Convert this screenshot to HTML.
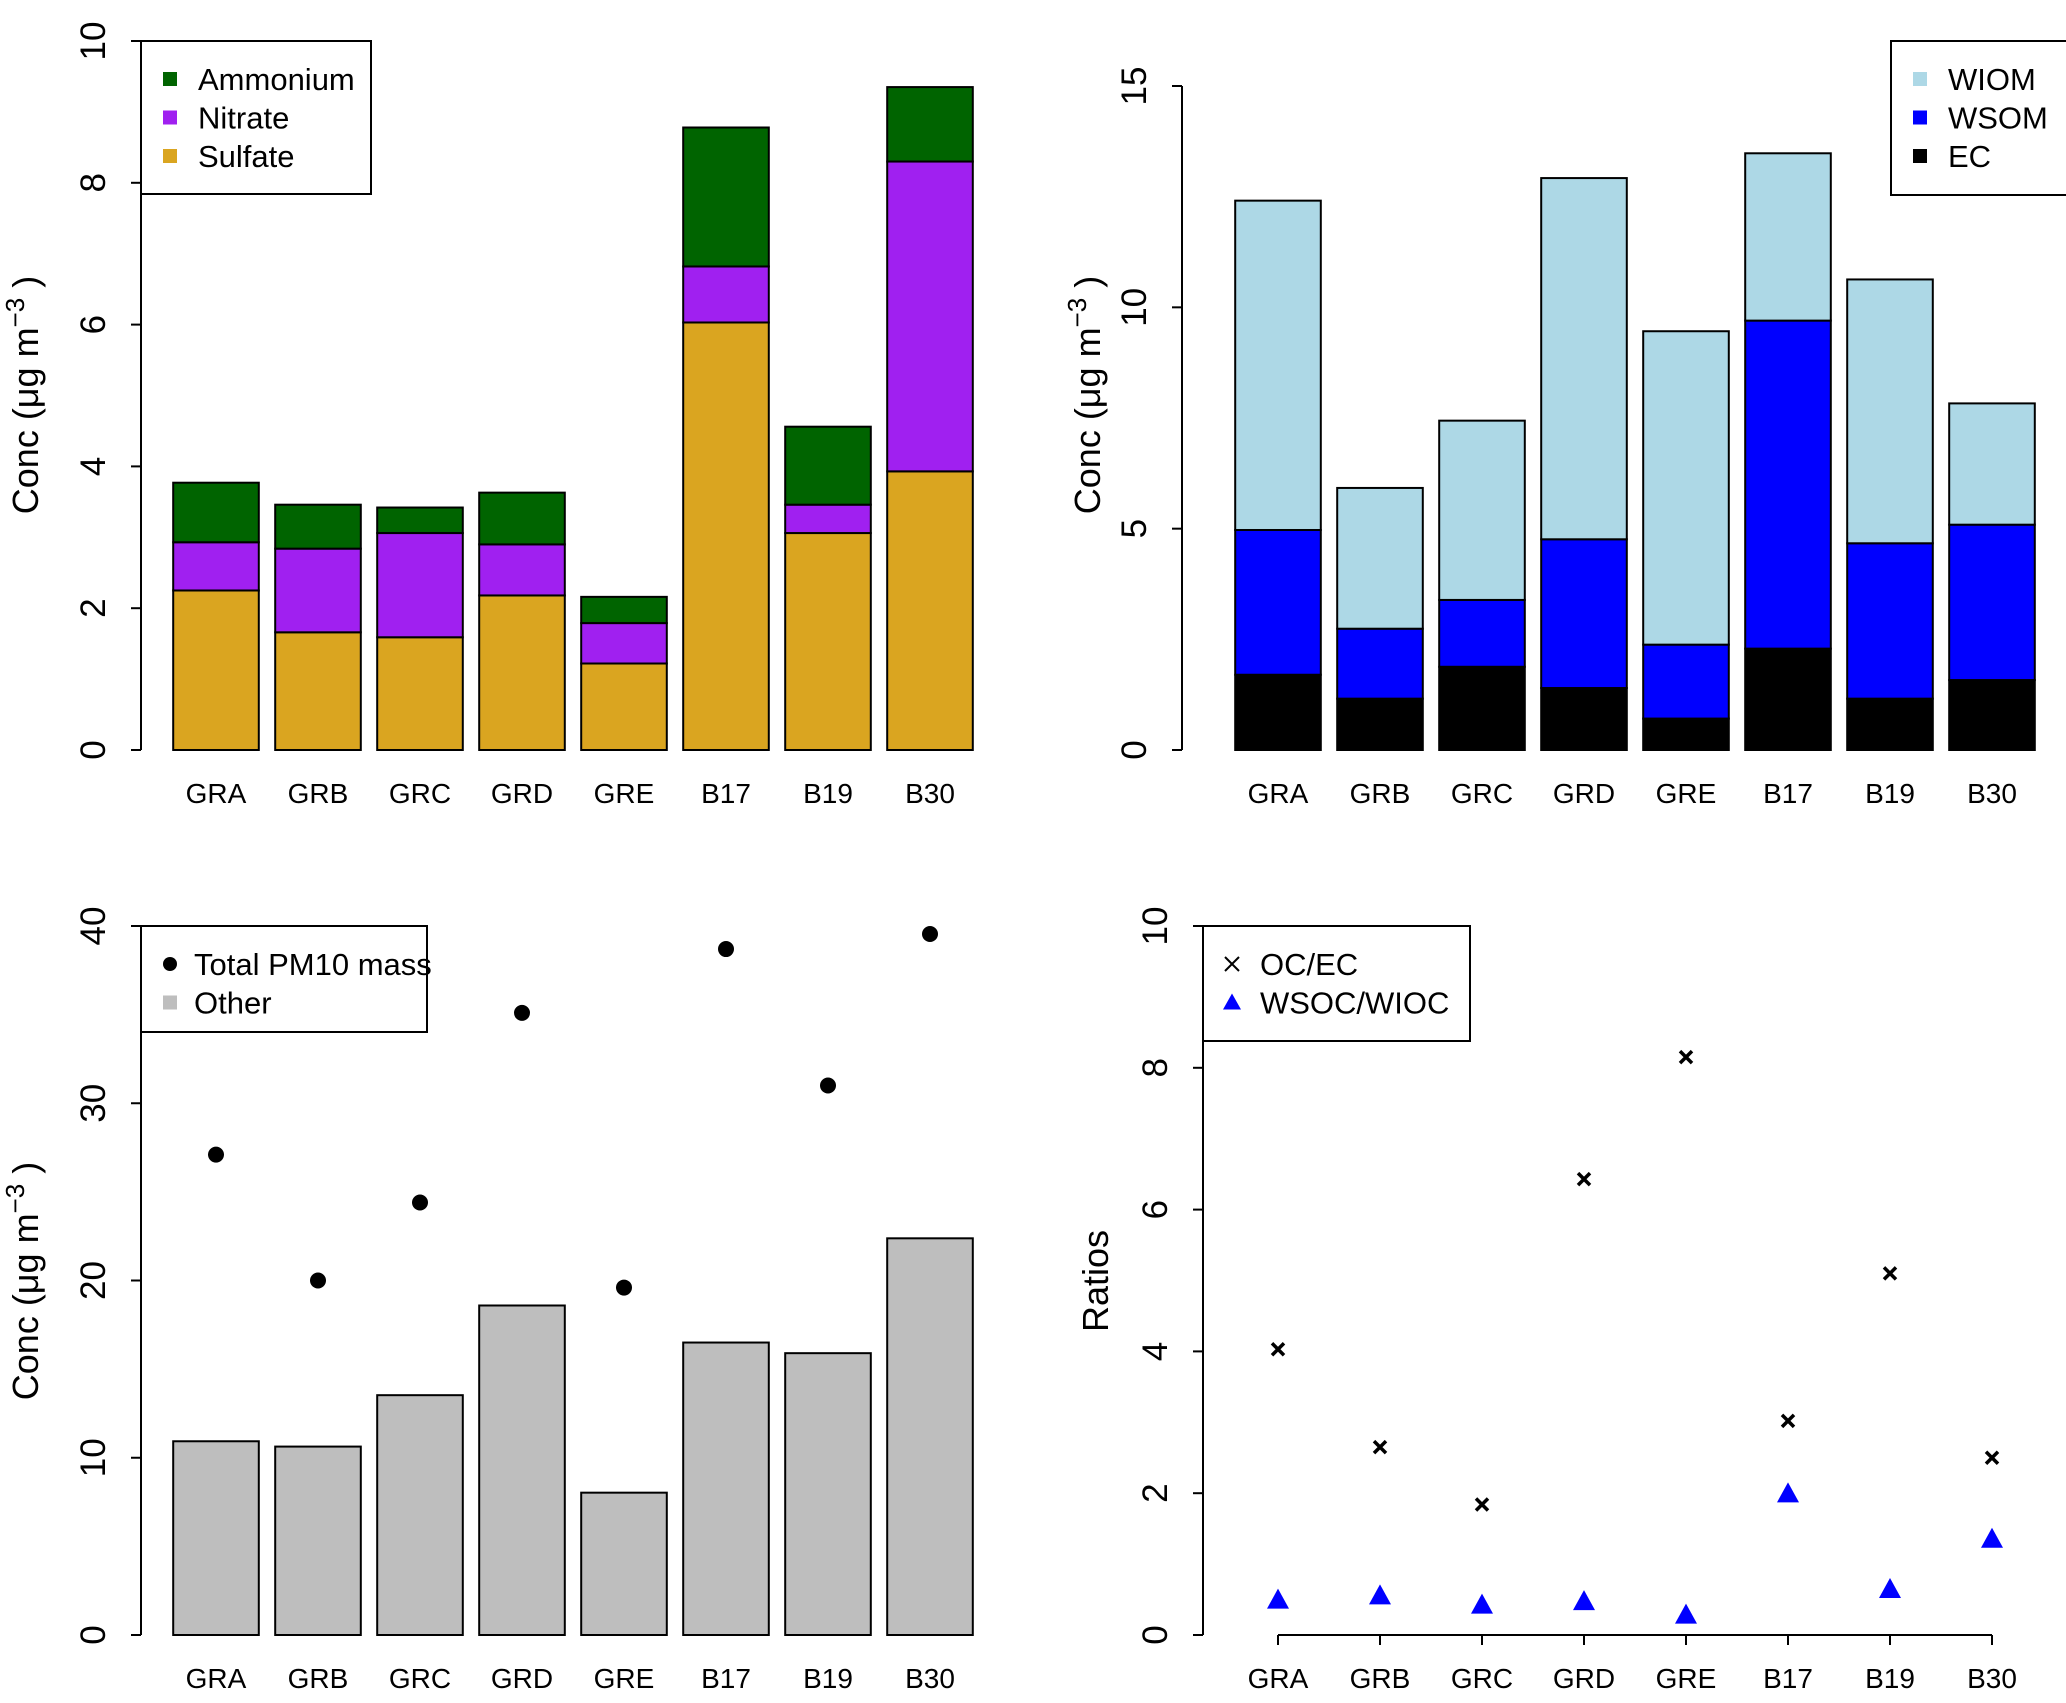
<!DOCTYPE html>
<html><head><meta charset="utf-8">
<style>
html,body{margin:0;padding:0;background:#fff;}
svg{display:block;font-family:"Liberation Sans",Arial,sans-serif;}
</style></head>
<body>
<svg id="chart" width="2066" height="1703" viewBox="0 0 2066 1703" xmlns="http://www.w3.org/2000/svg"></svg>
<script>
const categories = ["GRA","GRB","GRC","GRD","GRE","B17","B19","B30"];
// Panel 1: inorganic ions
const sulfate  = [2.25,1.66,1.59,2.18,1.22,6.03,3.06,3.93];
const nitrate  = [0.68,1.18,1.47,0.72,0.57,0.79,0.40,4.37];
const ammonium = [0.84,0.62,0.36,0.73,0.37,1.96,1.10,1.05];
const ticks1 = ["0","2","4","6","8","10"];
// Panel 2: carbonaceous
const ec   = [1.70,1.16,1.88,1.40,0.71,2.29,1.16,1.58];
const wsom = [3.27,1.58,1.51,3.36,1.67,7.41,3.51,3.51];
const wiom = [7.44,3.18,4.05,8.16,7.08,3.78,5.96,2.74];
const ticks2 = ["0","5","10","15"];
// Panel 3: mass
const other = [10.93,10.63,13.53,18.59,8.03,16.5,15.9,22.38];
const totalPM10 = [27.1,20.0,24.4,35.1,19.6,38.7,31.0,39.55];
const ticks3 = ["0","10","20","30","40"];
// Panel 4: ratios
const ocec = [4.03,2.65,1.84,6.43,8.15,3.02,5.10,2.50];
const wsocwioc = [0.47,0.53,0.40,0.45,0.26,1.97,0.62,1.33];
const ticks4 = ["0","2","4","6","8","10"];

const svg = document.getElementById('chart');
const NS = 'http://www.w3.org/2000/svg';
function mk(tag, attrs, parent){
  const e = document.createElementNS(NS, tag);
  for (const k in attrs) e.setAttribute(k, attrs[k]);
  (parent||svg).appendChild(e);
  return e;
}
const BW = 85.6, STEP = 102;

function panel(p){
  const g = mk('g', {});
  
  
  const yS = v => p.y0 - (v / p.vmax) * (p.y0 - p.yTop);
  const xS = i => p.x0 + i * STEP;
  const ax = mk('g', {}, g);
  
  
  const tv0 = parseFloat(p.ticks[0]), tv1 = parseFloat(p.ticks[p.ticks.length-1]);
  mk('line', {x1:p.axisX, x2:p.axisX, y1:yS(tv0), y2:yS(tv1), stroke:'#000','stroke-width':2}, ax);
  p.ticks.forEach(t => {
    const v = parseFloat(t), y = yS(v);
    mk('line', {x1:p.axisX-10, x2:p.axisX, y1:y, y2:y, stroke:'#000','stroke-width':2}, ax);
    const tx = mk('text', {x:0, y:0, 'font-size':35, 'text-anchor':'middle',
      transform:`translate(${p.axisX-36},${y}) rotate(-90)`}, ax);
    
    
    tx.textContent = t;
  });
  const tt = mk('text', {x:0, y:0, 'font-size':36, 'text-anchor':'middle',
    transform:`translate(${p.titleX},${p.titleY}) rotate(-90)`}, g);
  
  
  if (p.title === 'conc') {
    tt.innerHTML = 'Conc (μg  m<tspan dy="-14" font-size="26">−3</tspan><tspan dy="14"> )</tspan>';
  } else tt.textContent = p.title;
  categories.forEach((c, i) => {
    const t = mk('text', {x:xS(i), y:p.labelY, 'font-size':28, 'text-anchor':'middle'}, g);
    
    
    t.textContent = c;
  });
  return {g, xS, yS};
}

function stacked(P, series, colors, names){
  categories.forEach((c, i) => {
    let base = 0;
    series.forEach((s, k) => {
      const top = base + s[i];
      const r = mk('rect', {x:P.xS(i)-BW/2, y:P.yS(top), width:BW, height:P.yS(base)-P.yS(top),
        fill:colors[k], stroke:'#000', 'stroke-width':2}, P.g);
      
      
      base = top;
    });
  });
}

function legend(x, y, w, h, items, parent, tx){
  const g = mk('g', {}, parent);
  
  
  mk('rect', {x, y, width:w, height:h, fill:'#fff', stroke:'#000', 'stroke-width':2}, g);
  items.forEach((it, k) => {
    const cy = y + 38 + k * 38.5;
    const e = mk('g', {}, g);
    
    
    if (it.type === 'sq') mk('rect', {x:x+22, y:cy-7, width:14, height:14, fill:it.color}, e);
    else if (it.type === 'dot') mk('circle', {cx:x+29, cy, r:7, fill:'#000'}, e);
    else if (it.type === 'x') mk('path', {d:`M${x+22} ${cy-7}L${x+36} ${cy+7}M${x+36} ${cy-7}L${x+22} ${cy+7}`, stroke:'#000','stroke-width':2}, e);
    else if (it.type === 'tri') mk('polygon', {points:`${x+29},${cy-9} ${x+38},${cy+7} ${x+20},${cy+7}`, fill:'blue'}, e);
    const t = mk('text', {x:x+(tx||57), y:cy+11, 'font-size':31}, e);
    t.textContent = it.label;
  });
}

const P1 = panel({name:'panel-inorganic', axisX:141, y0:750, yTop:41, vmax:10, ticks:ticks1,
  x0:216, title:'conc', titleX:38, titleY:395, labelY:803});
stacked(P1, [sulfate, nitrate, ammonium], ['#DAA520','#A020F0','#006400'], ['sulfate','nitrate','ammonium']);
legend(141, 41, 230, 153, [{type:'sq',color:'#006400',label:'Ammonium'},{type:'sq',color:'#A020F0',label:'Nitrate'},{type:'sq',color:'#DAA520',label:'Sulfate'}], P1.g);

const P2 = panel({name:'panel-carbon', axisX:1182, y0:750, yTop:86, vmax:15, ticks:ticks2,
  x0:1278, title:'conc', titleX:1100, titleY:395, labelY:803});
stacked(P2, [ec, wsom, wiom], ['#000000','#0000FF','#ADD8E6'], ['ec','wsom','wiom']);
legend(1891, 41, 180, 154, [{type:'sq',color:'#ADD8E6',label:'WIOM'},{type:'sq',color:'#0000FF',label:'WSOM'},{type:'sq',color:'#000',label:'EC'}], P2.g);

const P3 = panel({name:'panel-mass', axisX:141, y0:1635, yTop:926, vmax:40, ticks:ticks3,
  x0:216, title:'conc', titleX:38, titleY:1281, labelY:1688});
stacked(P3, [other], ['#BEBEBE'], ['other']);
totalPM10.forEach((v, i) => {
  const c = mk('circle', {cx:P3.xS(i), cy:P3.yS(v), r:8, fill:'#000'}, P3.g);
  
  
});
legend(141, 926, 286, 106, [{type:'dot',label:'Total PM10 mass'},{type:'sq',color:'#BEBEBE',label:'Other'}], P3.g, 53);

const P4 = panel({name:'panel-ratios', axisX:1203, y0:1635, yTop:926, vmax:10, ticks:ticks4,
  x0:1278, title:'Ratios', titleX:1108, titleY:1281, labelY:1688});
const xa = mk('g', {}, P4.g);


mk('line', {x1:P4.xS(0), x2:P4.xS(categories.length-1), y1:1635, y2:1635, stroke:'#000','stroke-width':2}, xa);
categories.forEach((c, i) => mk('line', {x1:P4.xS(i), x2:P4.xS(i), y1:1635, y2:1645, stroke:'#000','stroke-width':2}, xa));
ocec.forEach((v, i) => {
  const x = P4.xS(i), y = P4.yS(v), d = 6;
  const p = mk('path', {d:`M${x-d} ${y-d}L${x+d} ${y+d}M${x+d} ${y-d}L${x-d} ${y+d}`, stroke:'#000','stroke-width':3.5}, P4.g);
  
  
});
wsocwioc.forEach((v, i) => {
  const x = P4.xS(i), y = P4.yS(v);
  const p = mk('polygon', {points:`${x},${y-13} ${x+11},${y+7} ${x-11},${y+7}`, fill:'blue'}, P4.g);
  
  
});
legend(1203, 926, 267, 115, [{type:'x',label:'OC/EC'},{type:'tri',label:'WSOC/WIOC'}], P4.g);
</script>
</body></html>
